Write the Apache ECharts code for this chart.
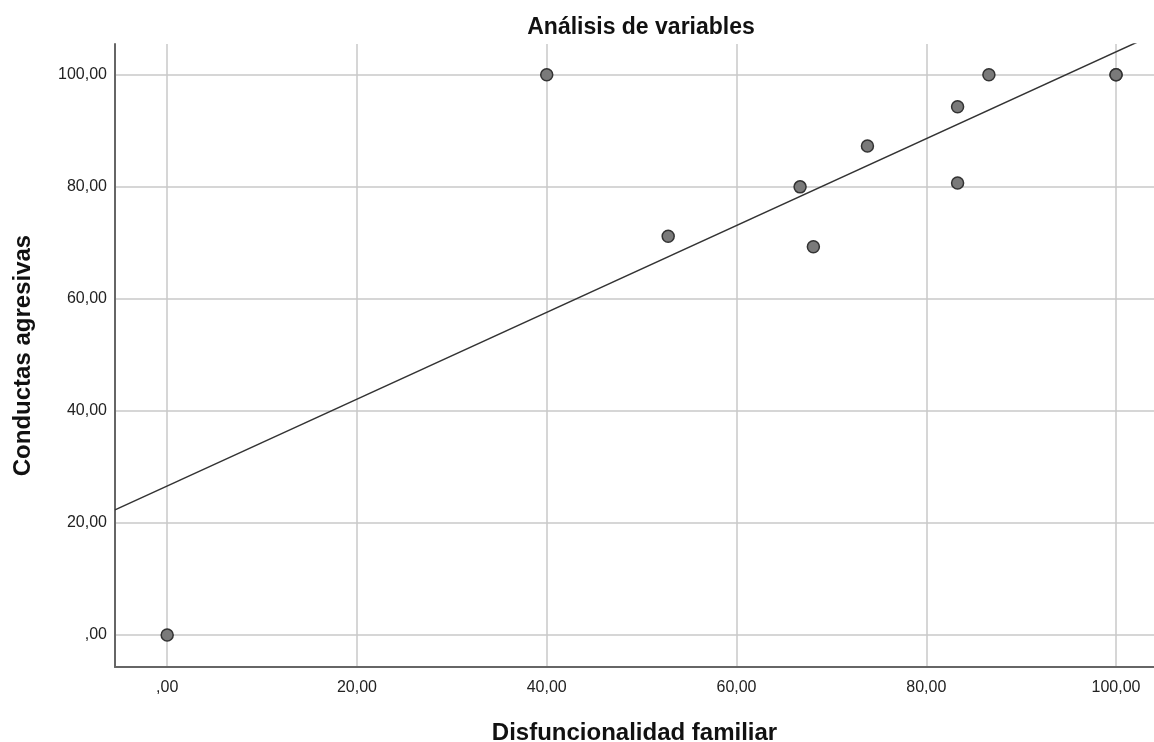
<!DOCTYPE html>
<html>
<head>
<meta charset="utf-8">
<script src="https://cdn.jsdelivr.net/npm/echarts@6/dist/echarts.min.js"></script>
<style>html,body{margin:0;padding:0;background:#fff;overflow:hidden}#c{width:1154px;height:742px}</style>
</head>
<body>
<div id="c"></div>
<script>
const chartTitle = 'Análisis de variables';
const xName = 'Disfuncionalidad familiar';
const yName = 'Conductas agresivas';
const xValues = [0, 40, 52.8, 66.7, 68.1, 73.8, 83.3, 83.3, 86.6, 100, 100];
const yValues = [0, 100, 71.2, 80.0, 69.3, 87.3, 94.3, 80.7, 100, 100, 100];
const tickValues = [0, 20, 40, 60, 80, 100];
const tickLabels = [',00', '20,00', '40,00', '60,00', '80,00', '100,00'];
const fitIntercept = 26.6;
const fitSlope = 0.775;
const xMin = -5.5, xMax = 104, yMin = -5.7, yMax = 105.5;

const points = xValues.map((x, i) => [x, yValues[i]]);
const fitLine = [[xMin, fitIntercept + fitSlope * xMin], [xMax, fitIntercept + fitSlope * xMax]];
const fmt = v => { const i = tickValues.indexOf(v); return i >= 0 ? tickLabels[i] : ''; };
const FONT = 'Liberation Sans, Arial, sans-serif';

const axisCommon = {
  axisLine: { show: true, onZero: false, lineStyle: { color: '#666', width: 2 } },
  axisTick: { show: false, customValues: tickValues },
  axisLabel: { customValues: tickValues, formatter: fmt, color: '#222', fontSize: 16, fontFamily: FONT },
  splitLine: { show: true, lineStyle: { color: '#c8c8c8', width: 1.5 } },
  nameTextStyle: { color: '#111', fontSize: 24, fontWeight: 'bold', fontFamily: FONT }
};

const chart = echarts.init(document.getElementById('c'));
chart.setOption({
  animation: false,
  title: { text: chartTitle, left: 636, top: 11, textAlign: 'center', textStyle: { color: '#111', fontSize: 23, fontWeight: 'bold', fontFamily: FONT } },
  grid: { left: 115, right: 0, top: 44, bottom: 75, containLabel: false, outerBoundsMode: 'none' },
  xAxis: Object.assign({}, axisCommon, { type: 'value', min: xMin, max: xMax, name: xName, nameLocation: 'middle', nameGap: 54,
    axisLabel: Object.assign({}, axisCommon.axisLabel, { margin: 13 }) }),
  yAxis: Object.assign({}, axisCommon, { type: 'value', min: yMin, max: yMax, name: yName, nameLocation: 'middle', nameGap: 80,
    axisLabel: Object.assign({}, axisCommon.axisLabel, { margin: 8 }) }),
  series: [
    { type: 'line', data: fitLine, showSymbol: false, symbol: 'none', clip: true, lineStyle: { color: '#333', width: 1.5 }, z: 3 },
    { type: 'scatter', data: points, symbolSize: 12, itemStyle: { color: '#7a7a7a', borderColor: '#333', borderWidth: 1.5, opacity: 1 }, z: 4 }
  ]
});
</script>
</body>
</html>
